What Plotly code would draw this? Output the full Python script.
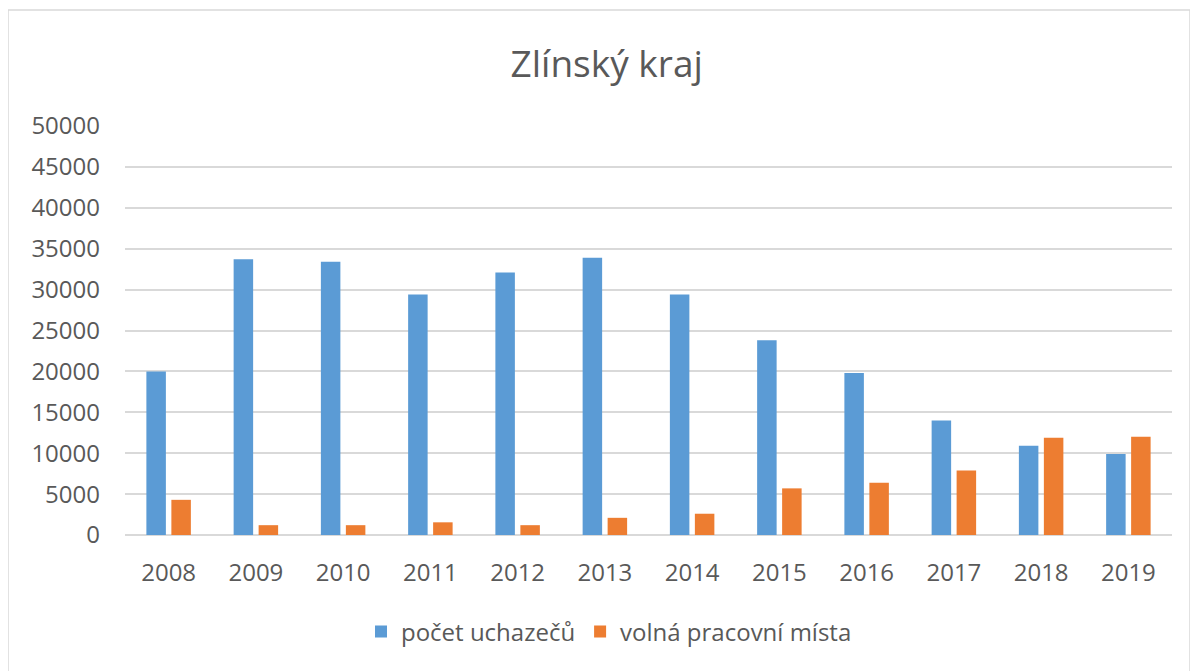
import plotly.graph_objects as go

years = ["2008", "2009", "2010", "2011", "2012", "2013", "2014", "2015", "2016", "2017", "2018", "2019"]
uchazeci = [20000, 33700, 33400, 29400, 32100, 33900, 29400, 23800, 19800, 14000, 10900, 9900]
volna_mista = [4300, 1200, 1200, 1550, 1200, 2100, 2600, 5700, 6400, 7900, 11900, 12000]
y_ticks = [0, 5000, 10000, 15000, 20000, 25000, 30000, 35000, 40000, 45000, 50000]

FONT = "Open Sans"
GREY = "#595959"

# figure is offset by the page's 8px body margin
W, H = 1190, 663
ML, MR, MT, MB = 117, 26, 118, 136
PW = W - ML - MR
PH = H - MT - MB

fig = go.Figure()
fig.add_trace(go.Bar(x=years, y=uchazeci, name="počet uchazečů",
                     marker=dict(color="#5B9BD5", line=dict(width=0))))
fig.add_trace(go.Bar(x=years, y=volna_mista, name="volná pracovní místa",
                     marker=dict(color="#ED7D31", line=dict(width=0))))

fig.update_layout(
    width=W, height=H,
    margin=dict(l=ML, r=MR, t=MT, b=MB),
    paper_bgcolor="white", plot_bgcolor="white",
    barmode="group", bargap=0.427, bargroupgap=0.22,
    title=dict(text="Zlínský kraj", x=(606.7 - 8) / W, xref="container", xanchor="center",
               y=1 - 56 / H, yref="container", yanchor="middle",
               font=dict(family=FONT, size=37, color=GREY)),
    font=dict(family=FONT, size=24, color=GREY),
    xaxis=dict(showgrid=False, showline=False, ticks="", tickfont=dict(size=24, color=GREY),
               ticklabelstandoff=21),
    yaxis=dict(range=[0, 50000], tickvals=y_ticks, ticktext=[str(v) for v in y_ticks],
               showgrid=True, gridcolor="#d9d9d9", gridwidth=1.5, zeroline=True,
               zerolinecolor="#d9d9d9", zerolinewidth=1.5, showline=False, ticks="",
               tickfont=dict(size=24, color=GREY), ticklabelstandoff=24),
    legend=dict(orientation="h", x=(609 - 8 - ML) / PW, xanchor="center",
                y=-(624 - (MT + PH)) / PH, yanchor="middle",
                font=dict(size=24, color=GREY), itemwidth=30, traceorder="normal"),
    shapes=[dict(type="rect", xref="paper", yref="paper",
                 x0=(0 - ML) / PW, x1=(1182 - ML) / PW,
                 y0=-(680 - (MT + PH)) / PH, y1=(MT + PH - 2) / PH,
                 line=dict(color="#d9d9d9", width=1.5), fillcolor="rgba(0,0,0,0)", layer="below")],
)

fig.write_html("out.html")
